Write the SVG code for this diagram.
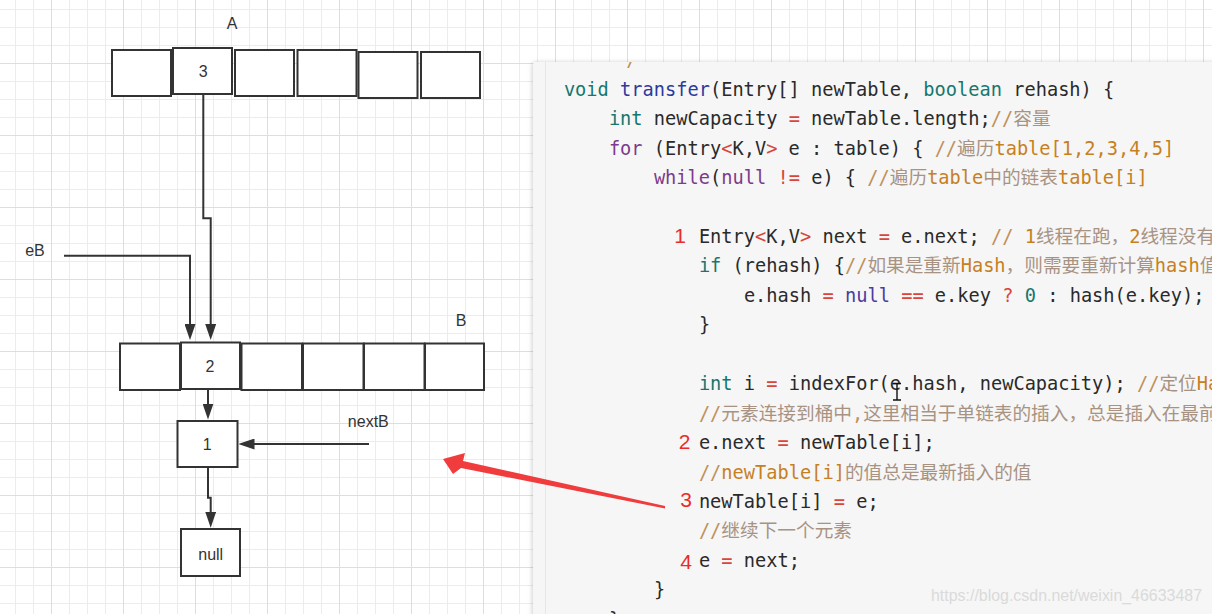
<svg xmlns="http://www.w3.org/2000/svg" width="1212" height="614" viewBox="0 0 1212 614">
<style>
.box{fill:#ffffff;stroke:#333333;stroke-width:2}
.lbl{font-family:"Liberation Sans",Arial,sans-serif;font-size:16px;fill:#333333}
.mid{text-anchor:middle}
.wire{fill:none;stroke:#333333;stroke-width:2}
.code{font-family:"DejaVu Sans Mono","Noto Sans CJK SC",monospace;font-size:18.67px;fill:#2a2a2a}
.t{fill:#17776f}
.n{fill:#2c3a9e}
.p{fill:#7d3a8c}
.nl{fill:#4b3c9e}
.r{fill:#d9453b}
.c{fill:#c0905a}
.o{fill:#c7801f}
.z{font-family:"Noto Sans CJK SC",sans-serif;fill:#a89383}
.num{font-family:"Liberation Sans",Arial,sans-serif;font-size:21px;fill:#ea2b2b;text-anchor:end}
</style>
<defs>
<pattern id="grid" patternUnits="userSpaceOnUse" x="51" y="63" width="72" height="72">
<path d="M18.5,0V72M36.5,0V72M54.5,0V72M0,18.5H72M0,36.5H72M0,54.5H72" stroke="#ececec" stroke-width="1" fill="none"/>
<path d="M0.5,0V72M0,0.5H72" stroke="#dedede" stroke-width="1" fill="none"/>
</pattern>
<marker id="ah" markerUnits="userSpaceOnUse" markerWidth="16" markerHeight="11" refX="12" refY="5.5" orient="auto">
<path d="M0,0L16,5.5L0,11z" fill="#333333"/>
</marker>
<filter id="sh" x="-5%" y="-5%" width="110%" height="110%">
<feDropShadow dx="-1" dy="0" stdDeviation="2" flood-color="#000000" flood-opacity="0.18"/>
</filter>
<clipPath id="panelClip"><rect x="533" y="62" width="679" height="552" rx="3"/></clipPath>
</defs>

<rect x="0" y="0" width="1212" height="614" fill="#ffffff"/>
<rect x="0" y="0" width="1212" height="614" fill="url(#grid)"/>

<g id="arrayA">
<rect class="box" x="112" y="50" width="59" height="46"/>
<rect class="box" x="173" y="48" width="59" height="46"/>
<rect class="box" x="235" y="50" width="59" height="46"/>
<rect class="box" x="297.5" y="50" width="59" height="46"/>
<rect class="box" x="358.5" y="52" width="59" height="46"/>
<rect class="box" x="421" y="52" width="59" height="46"/>
<text class="lbl mid" x="232" y="29.3">A</text>
<text class="lbl mid" x="203.3" y="77.3">3</text>
</g>

<g id="arrayB">
<rect class="box" x="120" y="343.5" width="60" height="46.5"/>
<rect class="box" x="181" y="342.5" width="59" height="46.5"/>
<rect class="box" x="241.5" y="343.5" width="60.5" height="46.5"/>
<rect class="box" x="303" y="343.5" width="60.5" height="46.5"/>
<rect class="box" x="364" y="343.5" width="60.5" height="46.5"/>
<rect class="box" x="425" y="343.5" width="59" height="46.5"/>
<text class="lbl mid" x="461" y="325.7">B</text>
<text class="lbl mid" x="210" y="372.3">2</text>
</g>

<g id="node1">
<rect class="box" x="177.5" y="421" width="60" height="46"/>
<text class="lbl mid" x="207.3" y="450">1</text>
</g>

<g id="nodeNull">
<rect class="box" x="181" y="529" width="59" height="47"/>
<text class="lbl mid" x="210.7" y="560">null</text>
</g>

<g id="labelEB"><text class="lbl mid" x="35" y="256">eB</text></g>
<g id="labelNextB"><text class="lbl mid" x="368.3" y="427.3">nextB</text></g>

<g id="connectors">
<path class="wire" d="M203.3,95V218.3H210.7V336" marker-end="url(#ah)"/>
<path class="wire" d="M64,255.7H190V336" marker-end="url(#ah)"/>
<path class="wire" d="M208,390V415.5" marker-end="url(#ah)"/>
<path class="wire" d="M369,444H242.5" marker-end="url(#ah)"/>
<path class="wire" d="M208,468V497.7H210.7V523.7" marker-end="url(#ah)"/>
</g>

<g id="codePanel">
<rect x="533" y="62" width="700" height="600" rx="3" fill="#f6f6f6" filter="url(#sh)"/>
<line x1="545.5" y1="62" x2="545.5" y2="614" stroke="#e6e6e6" stroke-width="1"/>
<g clip-path="url(#panelClip)">
<text class="code c" x="615" y="66.25">*/</text>
<text class="code" x="563.9" y="95.7" xml:space="preserve"><tspan class="t">void</tspan> <tspan class="n">transfer</tspan>(Entry[] newTable, <tspan class="t">boolean</tspan> rehash) {</text>
<text class="code" x="608.9" y="125.15" xml:space="preserve"><tspan class="t">int</tspan> newCapacity <tspan class="r">=</tspan> newTable.length;<tspan class="c">//</tspan><tspan class="z">容量</tspan></text>
<text class="code" x="608.9" y="154.6" xml:space="preserve"><tspan class="p">for</tspan> (Entry<tspan class="r">&lt;</tspan>K,V<tspan class="r">&gt;</tspan> e : table) { <tspan class="c">//</tspan><tspan class="z">遍历</tspan><tspan class="o">table[1,2,3,4,5]</tspan></text>
<text class="code" x="653.9" y="184.05" xml:space="preserve"><tspan class="p">while</tspan>(<tspan class="p">null</tspan> <tspan class="r">!=</tspan> e) { <tspan class="c">//</tspan><tspan class="z">遍历</tspan><tspan class="o">table</tspan><tspan class="z">中的链表</tspan><tspan class="o">table[i]</tspan></text>
<text class="code" x="698.9" y="242.95" xml:space="preserve">Entry<tspan class="r">&lt;</tspan>K,V<tspan class="r">&gt;</tspan> next <tspan class="r">=</tspan> e.next; <tspan class="c">//</tspan> <tspan class="o">1</tspan><tspan class="z">线程在跑，</tspan><tspan class="o">2</tspan><tspan class="z">线程没有</tspan></text>
<text class="code" x="698.9" y="272.4" xml:space="preserve"><tspan class="t">if</tspan> (rehash) {<tspan class="c">//</tspan><tspan class="z">如果是重新</tspan><tspan class="o">Hash</tspan><tspan class="z">，则需要重新计算</tspan><tspan class="o">hash</tspan><tspan class="z">值</tspan></text>
<text class="code" x="743.9" y="301.85" xml:space="preserve">e.hash <tspan class="r">=</tspan> <tspan class="nl">null</tspan> <tspan class="r">==</tspan> e.key <tspan class="r">?</tspan> <tspan class="t">0</tspan> : hash(e.key);</text>
<text class="code" x="698.9" y="331.3">}</text>
<text class="code" x="698.9" y="390.2" xml:space="preserve"><tspan class="t">int</tspan> i <tspan class="r">=</tspan> indexFor(e.hash, newCapacity); <tspan class="c">//</tspan><tspan class="z">定位</tspan><tspan class="o">Ha</tspan></text>
<text class="code" x="698.9" y="419.65" xml:space="preserve"><tspan class="c">//</tspan><tspan class="z">元素连接到桶中</tspan><tspan class="c">,</tspan><tspan class="z">这里相当于单链表的插入，总是插入在最前</tspan></text>
<text class="code" x="698.9" y="449.1" xml:space="preserve">e.next <tspan class="r">=</tspan> newTable[i];</text>
<text class="code" x="698.9" y="478.55" xml:space="preserve"><tspan class="c">//</tspan><tspan class="o">newTable[i]</tspan><tspan class="z">的值总是最新插入的值</tspan></text>
<text class="code" x="698.9" y="508" xml:space="preserve">newTable[i] <tspan class="r">=</tspan> e;</text>
<text class="code" x="698.9" y="537.45" xml:space="preserve"><tspan class="c">//</tspan><tspan class="z">继续下一个元素</tspan></text>
<text class="code" x="698.9" y="566.9" xml:space="preserve">e <tspan class="r">=</tspan> next;</text>
<text class="code" x="653.9" y="596.35">}</text>
<text class="code" x="608.9" y="625.8">}</text>
<path d="M893,383.5h8M897,383.5v16.5M893,400h8" stroke="#111111" stroke-width="1.4" fill="none"/>
<text class="num" x="686" y="243.3">1</text>
<text class="num" x="690.5" y="449.3">2</text>
<text class="num" x="692" y="506.7">3</text>
<text class="num" x="692" y="569.3">4</text>
<text x="931" y="601" font-family="Liberation Sans, Arial, sans-serif" font-size="17" fill="#dadada" textLength="271" lengthAdjust="spacingAndGlyphs">https://blog.csdn.net/weixin_46633487</text>
</g>
</g>

<g id="redArrow">
<polygon points="443,459 465,453 463,461 665,506 665,508.5 461,468 453,474" fill="#f03c3c"/>
</g>
</svg>
